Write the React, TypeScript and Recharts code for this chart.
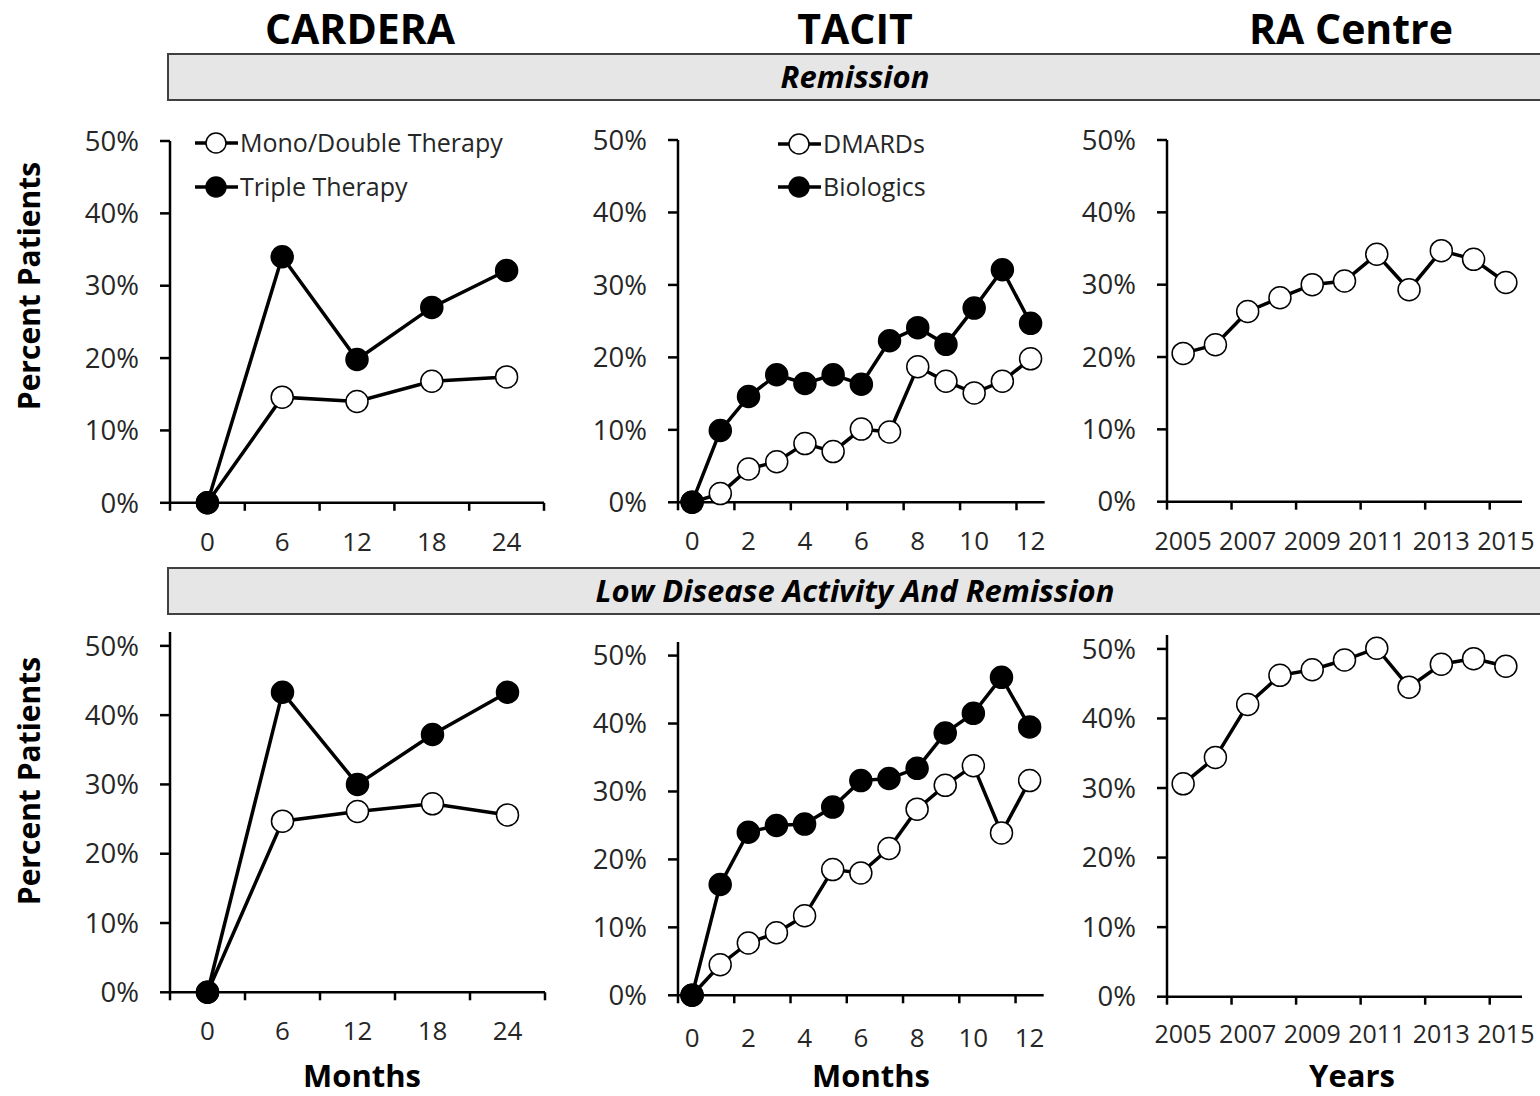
import React from 'react'
import { LineChart, Line, XAxis, YAxis } from 'recharts'

const FONT = "'Open Sans', 'DejaVu Sans', sans-serif"
const TEXT = '#262626'

// categories
const carderaMonths = ['0', '6', '12', '18', '24']
const tacitMonths = ['0', '1', '2', '3', '4', '5', '6', '7', '8', '9', '10', '11', '12']
const raYears = ['2005', '2006', '2007', '2008', '2009', '2010', '2011', '2012', '2013', '2014', '2015']

// remission (%)
const carderaRemMono = [0, 14.6, 14.0, 16.8, 17.4]
const carderaRemTriple = [0, 34.0, 19.8, 27.0, 32.1]
const tacitRemDmards = [0, 1.2, 4.6, 5.6, 8.1, 7.0, 10.1, 9.7, 18.7, 16.7, 15.1, 16.7, 19.8]
const tacitRemBio = [0, 9.9, 14.6, 17.6, 16.4, 17.6, 16.3, 22.3, 24.1, 21.8, 26.8, 32.1, 24.7]
const raRem = [20.5, 21.7, 26.3, 28.2, 30.0, 30.5, 34.2, 29.3, 34.7, 33.5, 30.3]

// low disease activity and remission (%)
const carderaLdaMono = [0, 24.7, 26.1, 27.2, 25.6]
const carderaLdaTriple = [0, 43.3, 30.0, 37.2, 43.3]
const tacitLdaDmards = [0, 4.5, 7.7, 9.2, 11.7, 18.5, 18.0, 21.6, 27.4, 30.9, 33.8, 23.9, 31.6]
const tacitLdaBio = [0, 16.3, 24.0, 25.0, 25.2, 27.7, 31.6, 31.9, 33.4, 38.6, 41.5, 46.8, 39.5]
const raLda = [30.6, 34.4, 42.0, 46.2, 47.0, 48.4, 50.1, 44.5, 47.8, 48.6, 47.5]

const yTicks = [0, 10, 20, 30, 40, 50]

type Series = { values: number[]; filled: boolean }

type PanelProps = {
  x0: number
  x1: number
  yTop: number
  yBottom: number
  yMax: number
  categories: string[]
  series: Series[]
  step: number
  closeEnd?: boolean
  labelGap?: number
  labelSize?: number
}

function Panel(p: PanelProps) {
  const yAxisW = 90
  const padTop = 20
  const padRight = 18
  const xAxisH = 70
  const plotW = p.x1 - p.x0
  const plotH = p.yBottom - p.yTop
  const n = p.categories.length
  const band = plotW / n
  const labelGap = p.labelGap ?? 48
  const labelSize = p.labelSize ?? 26

  const data = p.categories.map((c, i) => {
    const row: any = { i, cat: c }
    p.series.forEach((s, k) => { row['s' + k] = s.values[i] })
    return row
  })

  // tick marks sit between categories (Excel-style category axis)
  const ticks: number[] = []
  for (let k = 0; k < n; k += p.step) ticks.push(k - 0.5)
  if (p.closeEnd) ticks.push(n - 0.5)

  const renderTick = (props: any) => {
    const { x, y, payload } = props
    const k = Math.round(payload.value + 0.5)
    const label = k < n ? p.categories[k] : ''
    return (
      <g>
        <line x1={x} x2={x} y1={y} y2={y + 8} stroke="#000" strokeWidth={2.5} />
        {label && (
          <text x={x + band / 2} y={y + labelGap} textAnchor="middle" fontSize={labelSize} fill={TEXT}>
            {label}
          </text>
        )}
      </g>
    )
  }

  return (
    <div style={{ position: 'absolute', left: p.x0 - yAxisW, top: p.yTop - padTop }}>
      <LineChart
        width={yAxisW + plotW + padRight}
        height={padTop + plotH + xAxisH}
        data={data}
        margin={{ top: padTop, right: padRight, left: 0, bottom: 0 }}
      >
        <XAxis
          dataKey="i"
          type="number"
          domain={[-0.5, n - 0.5]}
          ticks={ticks}
          interval={0}
          tick={renderTick}
          tickLine={false}
          tickSize={0}
          tickMargin={0}
          height={xAxisH}
          axisLine={{ stroke: '#000', strokeWidth: 2.5 }}
        />
        <YAxis
          type="number"
          domain={[0, p.yMax]}
          ticks={yTicks}
          interval={0}
          width={yAxisW}
          tickSize={10}
          tickMargin={21}
          tickFormatter={(v: number) => `${v}%`}
          tick={{ fontSize: 27.5, fill: TEXT }}
          tickLine={{ stroke: '#000', strokeWidth: 2.5 }}
          axisLine={{ stroke: '#000', strokeWidth: 2.5 }}
        />
        {p.series.map((s, k) => (
          <Line
            key={k}
            dataKey={'s' + k}
            type="linear"
            stroke="#000"
            strokeWidth={3.5}
            dot={{ r: 11, fill: s.filled ? '#000' : '#fff', stroke: '#000', strokeWidth: 1.5 }}
            activeDot={false}
            isAnimationActive={false}
          />
        ))}
      </LineChart>
    </div>
  )
}

function LegendItem({ x, y, label, filled }: { x: number; y: number; label: string; filled: boolean }) {
  return (
    <g>
      <line x1={x} x2={x + 43} y1={y} y2={y} stroke="#000" strokeWidth={3.5} />
      <circle cx={x + 21} cy={y} r={10} fill={filled ? '#000' : '#fff'} stroke="#000" strokeWidth={1.5} />
      <text x={x + 45} y={y + 9} fontSize={25} fill={TEXT}>{label}</text>
    </g>
  )
}

function Overlay() {
  return (
    <svg width={1540} height={1096} style={{ position: 'absolute', left: 0, top: 0 }}>
      <g fontWeight="bold" fontSize={41} fill="#000" textAnchor="middle">
        <text x={360} y={44}>CARDERA</text>
        <text x={855} y={44}>TACIT</text>
        <text x={1351} y={44}>RA Centre</text>
      </g>
      <rect x={168} y={54} width={1380} height={46} fill="#e6e6e6" stroke="#404040" strokeWidth={2} />
      <rect x={168} y={568} width={1380} height={46} fill="#e6e6e6" stroke="#404040" strokeWidth={2} />
      <g fontWeight="bold" fontStyle="italic" fontSize={31} fill="#000" textAnchor="middle">
        <text x={855} y={88}>Remission</text>
        <text x={855} y={602}>Low Disease Activity And Remission</text>
      </g>
      <g fontWeight="bold" fontSize={30} fill="#000" textAnchor="middle">
        <text x={40} y={286} transform="rotate(-90 40 286)">Percent Patients</text>
        <text x={40} y={781} transform="rotate(-90 40 781)">Percent Patients</text>
      </g>
      <g fontWeight="bold" fontSize={31} fill="#000" textAnchor="middle">
        <text x={362} y={1087}>Months</text>
        <text x={871} y={1087}>Months</text>
        <text x={1352} y={1087}>Years</text>
      </g>
      <LegendItem x={195} y={143} label="Mono/Double Therapy" filled={false} />
      <LegendItem x={195} y={187} label="Triple Therapy" filled={true} />
      <LegendItem x={778} y={144} label="DMARDs" filled={false} />
      <LegendItem x={778} y={187} label="Biologics" filled={true} />
    </svg>
  )
}

export default function App() {
  return (
    <div
      style={{
        position: 'absolute', left: 0, top: 0, width: 1540, height: 1096,
        overflow: 'hidden', background: '#fff', fontFamily: FONT,
      }}
    >
      <Overlay />
      <Panel x0={170} x1={544} yTop={140.5} yBottom={502.3} yMax={50} categories={carderaMonths} step={1} closeEnd
        series={[{ values: carderaRemMono, filled: false }, { values: carderaRemTriple, filled: true }]} />
      <Panel x0={678.3} x1={1045} yTop={140} yBottom={502.3} yMax={50} categories={tacitMonths} step={2}
        series={[{ values: tacitRemDmards, filled: false }, { values: tacitRemBio, filled: true }]} />
      <Panel x0={1166.7} x1={1521.7} yTop={140} yBottom={501.7} yMax={50} categories={raYears} step={2} labelSize={25}
        series={[{ values: raRem, filled: false }]} />
      <Panel x0={170} x1={545} yTop={632} yBottom={992.3} yMax={52} categories={carderaMonths} step={1} closeEnd
        series={[{ values: carderaLdaMono, filled: false }, { values: carderaLdaTriple, filled: true }]} />
      <Panel x0={678.3} x1={1044} yTop={641.7} yBottom={995} yMax={52} categories={tacitMonths} step={2} labelGap={52}
        series={[{ values: tacitLdaDmards, filled: false }, { values: tacitLdaBio, filled: true }]} />
      <Panel x0={1166.7} x1={1521.7} yTop={635} yBottom={996.7} yMax={52} categories={raYears} step={2} labelSize={25} labelGap={46}
        series={[{ values: raLda, filled: false }]} />
    </div>
  )
}
